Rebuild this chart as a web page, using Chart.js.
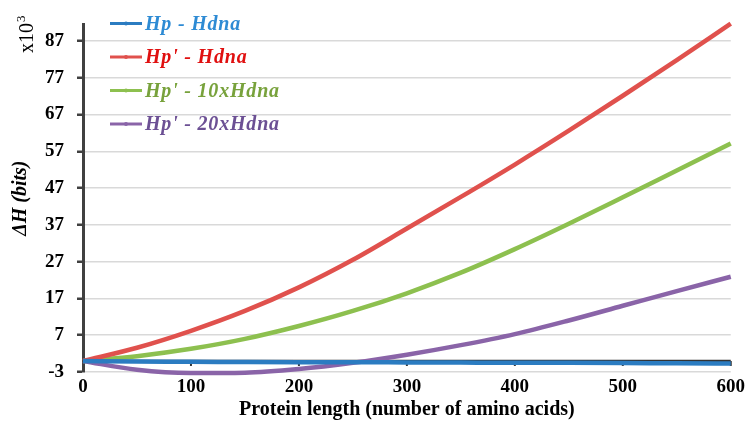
<!DOCTYPE html>
<html>
<head>
<meta charset="utf-8">
<script src="https://cdn.jsdelivr.net/npm/chart.js@4"></script>
<style>
  html, body { margin: 0; padding: 0; background: #ffffff; }
  #wrap { width: 749px; height: 428px; }
</style>
</head>
<body>
<div id="wrap"><canvas id="c" width="749" height="428"></canvas></div>
<script>
// ---- data (values in thousands of bits) ----
const proteinLength = [0, 50, 100, 150, 200, 250, 300, 350, 400, 450, 500, 550, 600];
const hpHdna       = [0, -0.15, -0.2, -0.3, -0.35, -0.35, -0.4, -0.45, -0.5, -0.5, -0.55, -0.65, -0.7];
const hpPrimeHdna  = [0, 3.6, 8.2, 13.6, 20.0, 27.5, 36.0, 44.6, 53.4, 62.6, 72.1, 81.8, 91.7];
const hpPrime10x   = [0, 1.3, 3.3, 6.0, 9.5, 13.6, 18.4, 24.0, 30.4, 37.3, 44.5, 51.8, 59.1];
const hpPrime20x   = [0, -2.4, -3.3, -3.2, -2.2, -0.5, 1.7, 4.3, 7.3, 11.0, 15.0, 19.0, 22.9];
const seriesNames  = ["Hp - Hdna", "Hp' - Hdna", "Hp' - 10xHdna", "Hp' - 20xHdna"];
const yTickValues  = [-3, 7, 17, 27, 37, 47, 57, 67, 77, 87];
const xTickValues  = [0, 100, 200, 300, 400, 500, 600];
const yAxisTitle   = "ΔH (bits)";
const yUnitBase    = "x10";
const yUnitExp     = "3";
const xAxisTitle   = "Protein length (number of amino acids)";

const lineColors   = ["#2B7CC1", "#E0514D", "#8DC04F", "#8A64A8"];
const legendText   = ["#2E8BD4", "#E01010", "#78A23C", "#6C5094"];

const toPoints = arr => arr.map((v, i) => ({ x: proteinLength[i], y: v }));
const allSeries = [hpHdna, hpPrimeHdna, hpPrime10x, hpPrime20x];

const SERIF = "'Liberation Serif', 'Times New Roman', serif";

// zero axis line with tick marks (x axis crosses at 0)
const zeroAxisPlugin = {
  id: 'zeroAxis',
  beforeDatasetsDraw(chart) {
    const { ctx, scales: { x, y } } = chart;
    const y0 = y.getPixelForValue(0);
    ctx.save();
    ctx.strokeStyle = '#333333';
    ctx.lineWidth = 2.5;
    ctx.beginPath();
    ctx.moveTo(x.getPixelForValue(0), y0);
    ctx.lineTo(x.getPixelForValue(600), y0);
    ctx.stroke();
    ctx.lineWidth = 2;
    xTickValues.slice(1).forEach(v => {
      const px = x.getPixelForValue(v);
      ctx.beginPath();
      ctx.moveTo(px, y0);
      ctx.lineTo(px, y0 + 5);
      ctx.stroke();
    });
    ctx.restore();
  },
  afterDraw(chart) {
    const { ctx } = chart;
    // unit label x10^3, rotated
    ctx.save();
    ctx.translate(27, 53);
    ctx.rotate(-Math.PI / 2);
    ctx.fillStyle = '#000';
    ctx.textBaseline = 'alphabetic';
    ctx.textAlign = 'left';
    ctx.font = "20px " + SERIF;
    ctx.fillText(yUnitBase, 0, 6);
    const w = ctx.measureText(yUnitBase).width;
    ctx.font = "13px " + SERIF;
    ctx.fillText(yUnitExp, w + 1, -2);
    ctx.restore();

    // legend inside plot area
    const rows = [23.5, 57, 90.5, 124];
    ctx.save();
    ctx.font = "italic bold 20px " + SERIF;
    ctx.textBaseline = 'middle';
    try { ctx.letterSpacing = '0.8px'; } catch (e) {}
    chart.data.datasets.forEach((ds, i) => {
      const ry = rows[i];
      ctx.strokeStyle = ds.borderColor;
      ctx.lineWidth = 3;
      ctx.beginPath();
      ctx.moveTo(110, ry);
      ctx.lineTo(142, ry);
      ctx.stroke();
      ctx.fillStyle = ds.borderColor;
      ctx.beginPath();
      ctx.arc(126, ry, 2, 0, Math.PI * 2);
      ctx.fill();
      ctx.fillStyle = legendText[i];
      ctx.fillText(ds.label, 145, ry + 1);
    });
    ctx.restore();
  }
};

const whiteBg = {
  id: 'whiteBg',
  beforeDraw(chart) {
    const { ctx } = chart;
    ctx.save();
    ctx.fillStyle = '#ffffff';
    ctx.fillRect(0, 0, chart.width, chart.height);
    ctx.restore();
  }
};

new Chart(document.getElementById('c'), {
  type: 'line',
  data: {
    datasets: allSeries.map((s, i) => ({
      label: seriesNames[i],
      data: toPoints(s),
      borderColor: lineColors[i],
      backgroundColor: lineColors[i],
      borderWidth: 4.5,
      pointRadius: 0,
      cubicInterpolationMode: 'monotone',
      clip: false,
      fill: false
    }))
  },
  options: {
    responsive: false,
    animation: false,
    devicePixelRatio: 1,
    layout: { padding: { left: 0, top: 10, right: 16, bottom: 0 } },
    plugins: { legend: { display: false }, tooltip: { enabled: false } },
    scales: {
      x: {
        type: 'linear',
        min: 0,
        max: 600,
        afterBuildTicks: sc => { sc.ticks = xTickValues.map(v => ({ value: v })); },
        afterFit: sc => { sc.height = 56; },
        grid: { display: false, drawTicks: false },
        border: { display: false },
        ticks: {
          padding: 4,
          color: '#000',
          font: { family: SERIF, size: 19, weight: 'bold' },
          maxRotation: 0
        },
        title: {
          display: true,
          text: xAxisTitle,
          color: '#000',
          font: { family: SERIF, size: 20, weight: 'bold' },
          padding: { top: 0, bottom: 6 }
        }
      },
      y: {
        type: 'linear',
        min: -3,
        max: 91.5,
        afterBuildTicks: sc => { sc.ticks = yTickValues.map(v => ({ value: v })); },
        afterFit: sc => { sc.width = 83; },
        grid: {
          color: '#D9D9D9',
          lineWidth: 1.5,
          drawTicks: true,
          tickLength: 6,
          tickColor: '#404040',
          tickWidth: 2.5
        },
        border: { display: true, color: '#404040', width: 3 },
        ticks: {
          padding: 13,
          color: '#000',
          font: { family: SERIF, size: 19, weight: 'bold' }
        },
        title: {
          display: true,
          text: yAxisTitle,
          color: '#000',
          font: { family: SERIF, size: 20, weight: 'bold', style: 'italic' },
          padding: { top: 9, bottom: 0 }
        }
      }
    }
  },
  plugins: [whiteBg, zeroAxisPlugin]
});
</script>
</body>
</html>
